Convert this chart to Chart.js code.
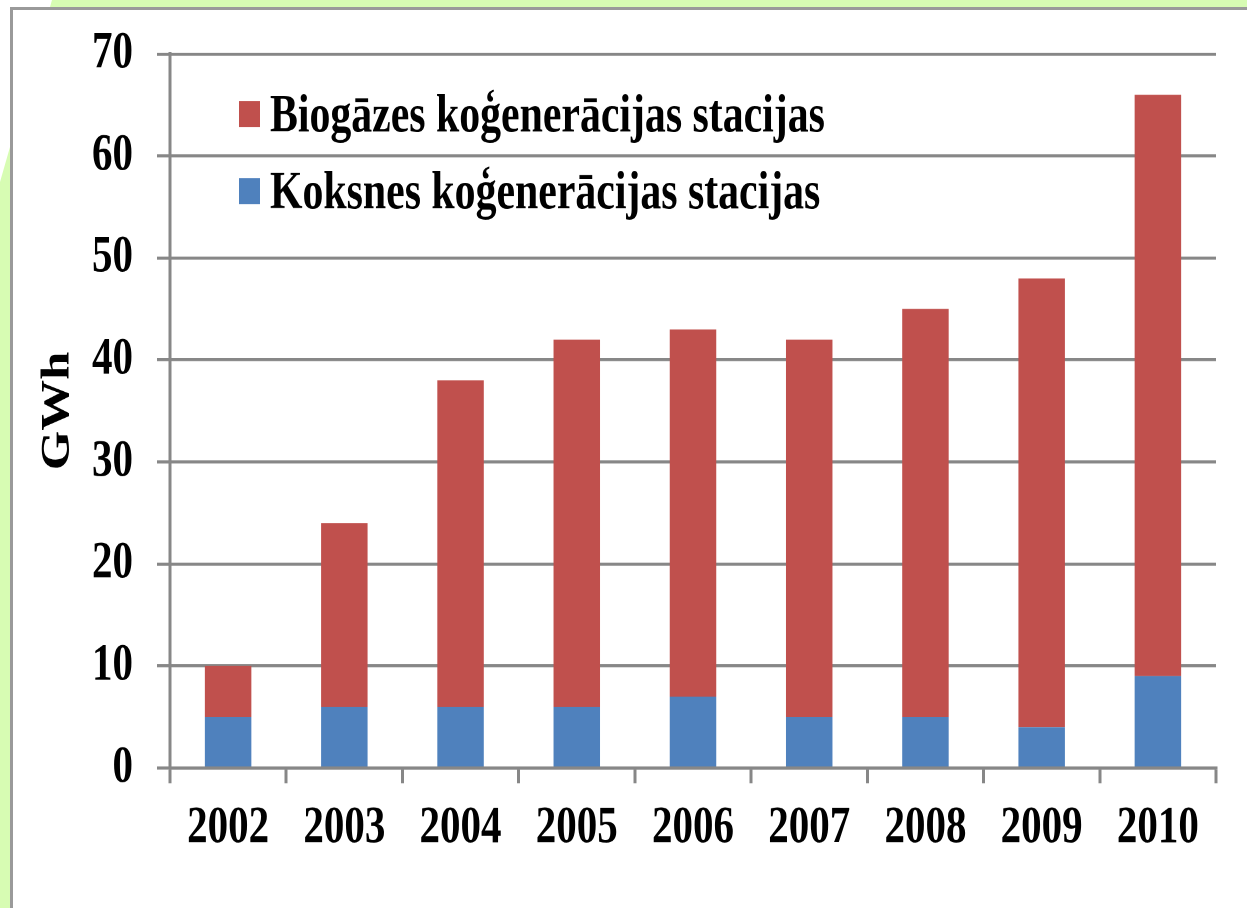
<!DOCTYPE html>
<html>
<head>
<meta charset="utf-8">
<script src="https://cdn.jsdelivr.net/npm/chart.js@4/dist/chart.umd.min.js"></script>
<style>
  html, body { margin:0; padding:0; width:1247px; height:908px; overflow:hidden; background:#d7fcb3; }
  #corner { position:absolute; left:0; top:0; width:80px; height:250px; background:#fff;
            clip-path: polygon(0 0, 52px 0, 0 182px); }
  #box { position:absolute; left:10px; top:7px; width:1250px; height:920px; background:#fff;
         border-top:3px solid #9a9a9a; border-left:3px solid #9a9a9a; }
  #wrap { position:absolute; left:0; top:0; width:1247px; height:715px;
          transform: scaleY(1.27); transform-origin: 0 0; }
</style>
</head>
<body>
<div id="corner"></div>
<div id="box"></div>
<div id="wrap"><canvas id="c" width="1247" height="715"></canvas></div>
<script>
const categories = ['2002','2003','2004','2005','2006','2007','2008','2009','2010'];
const woodValues = [5, 6, 6, 6, 7, 5, 5, 4, 9];
const biogasValues = [5, 18, 32, 36, 36, 37, 40, 44, 57];
const woodLabel = 'Koksnes koģenerācijas stacijas';
const biogasLabel = 'Biogāzes koģenerācijas stacijas';
const axisTitle = 'GWh';

const RED = '#c0504d';
const BLUE = '#4f81bd';
const GRID = '#878787';
const FONT = '"Liberation Serif", "Times New Roman", serif';

const legendPlugin = {
  id: 'insideLegend',
  afterDraw(chart) {
    const ctx = chart.ctx;
    const a = chart.chartArea;
    const items = [
      { label: chart.data.datasets[1].label, color: chart.data.datasets[1].backgroundColor, cy: a.top + 47.3 },
      { label: chart.data.datasets[0].label, color: chart.data.datasets[0].backgroundColor, cy: a.top + 107.9 }
    ];
    ctx.save();
    ctx.font = 'bold 41.8px ' + FONT;
    ctx.textAlign = 'left';
    ctx.textBaseline = 'alphabetic';
    for (const it of items) {
      ctx.fillStyle = it.color;
      ctx.fillRect(a.left + 69, it.cy - 10.25, 21, 20.5);
      ctx.fillStyle = '#000';
      ctx.fillText(it.label, a.left + 100, it.cy + 13.8);
    }
    ctx.restore();
  }
};

new Chart(document.getElementById('c'), {
  type: 'bar',
  data: {
    labels: categories,
    datasets: [
      { label: woodLabel, data: woodValues, backgroundColor: BLUE, barPercentage: 0.4, categoryPercentage: 1 },
      { label: biogasLabel, data: biogasValues, backgroundColor: RED, barPercentage: 0.4, categoryPercentage: 1 }
    ]
  },
  options: {
    responsive: false,
    animation: false,
    devicePixelRatio: 2,
    layout: { padding: { left: 0, right: 31, top: 42.5, bottom: 0 } },
    plugins: { legend: { display: false }, tooltip: { enabled: false } },
    scales: {
      x: {
        stacked: true,
        offset: true,
        ticks: { color: '#000', font: { family: FONT, size: 41, weight: 'bold' }, padding: 11, maxRotation: 0, autoSkip: false },
        grid: { offset: true, drawOnChartArea: false, drawTicks: true, tickLength: 12, color: GRID, lineWidth: 3 },
        border: { display: true, color: GRID, width: 2.4 },
        afterFit(s) { s.height = 715 - 604.7; s.paddingLeft = 0; s.paddingRight = 0; }
      },
      y: {
        stacked: true,
        min: 0, max: 70,
        ticks: { stepSize: 10, color: '#000', font: { family: FONT, size: 41, weight: 'bold' }, padding: 24 },
        grid: { color: GRID, lineWidth: 2.4, tickLength: 13, drawTicks: true },
        border: { display: true, color: GRID, width: 3 },
        title: { display: true, text: axisTitle, color: '#000', font: { family: FONT, size: 40, weight: 'bold' }, padding: { top: 34, bottom: 0 } },
        afterFit(s) { s.width = 170; s.paddingTop = 0; s.paddingBottom = 0; }
      }
    }
  },
  plugins: [legendPlugin]
});
</script>
</body>
</html>
